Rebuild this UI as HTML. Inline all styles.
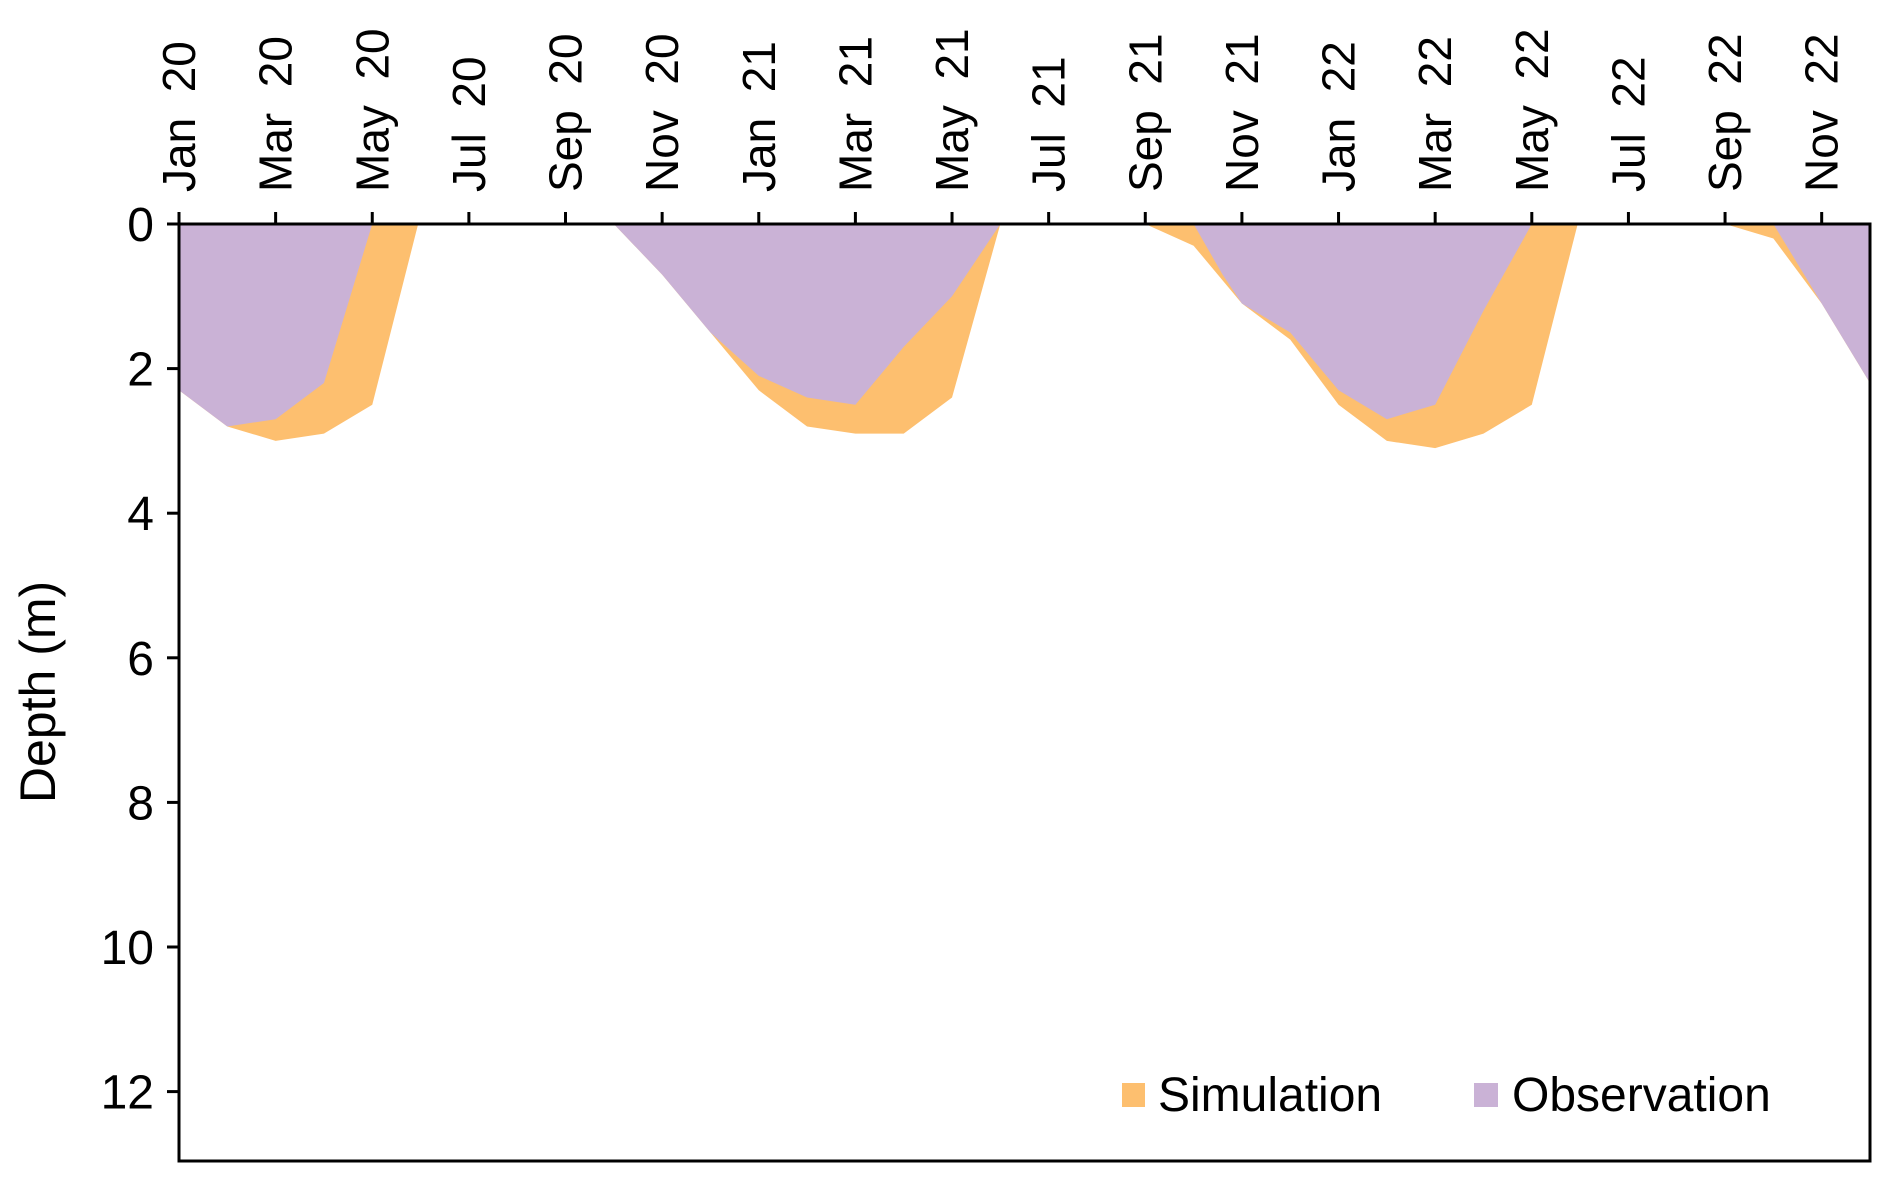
<!DOCTYPE html>
<html><head><meta charset="utf-8"><style>
html,body{margin:0;padding:0;background:#fff;}
svg{display:block;font-family:"Liberation Sans",Arial,sans-serif;}
text{white-space:pre;}
</style></head><body>
<svg id="chart" width="1892" height="1180" viewBox="0 0 1892 1180" xmlns="http://www.w3.org/2000/svg">
<g id="areas"></g>
<g id="axes"></g>
<text transform="translate(55,692) rotate(-90)" text-anchor="middle" font-size="50">Depth (m)</text>
<g>
<rect x="1122" y="1083" width="23" height="24" fill="#FDBF6F"/>
<text x="1158" y="1111" font-size="48">Simulation</text>
<rect x="1474" y="1083" width="24" height="24" fill="#CAB2D6"/>
<text x="1512" y="1111" font-size="48">Observation</text>
</g>
</svg>
<script>
const monthLabels = ["Jan  20","Mar  20","May  20","Jul  20","Sep  20","Nov  20","Jan  21","Mar  21","May  21","Jul  21","Sep  21","Nov  21","Jan  22","Mar  22","May  22","Jul  22","Sep  22","Nov  22"];
const yTicks = [0,2,4,6,8,10,12];
// month index 0 = Jan 20 ... 35 = Dec 22
const simMonths = [0,1,2,3,4,4.95,9,10,11,12,13,14,15,16,17,20,21,22,23,24,25,26,27,28,28.95,32,33,34,35];
const simDepth  = [2.3,2.8,3.0,2.9,2.5,0,0,0.7,1.5,2.3,2.8,2.9,2.9,2.4,0,0,0.3,1.1,1.6,2.5,3.0,3.1,2.9,2.5,0,0,0.2,1.1,2.2];
const obsMonths = [0,1,2,3,4,9,10,11,12,13,14,15,16,17,21,21.6,22,23,24,25,26,27,28,33,34,35];
const obsDepth  = [2.3,2.8,2.7,2.2,0,0,0.7,1.5,2.1,2.4,2.5,1.7,1.0,0,0,0.7,1.1,1.5,2.3,2.7,2.5,1.2,0,0,1.1,2.2];

const L=179,R=1870,T=224,B=1161,perM=72.3,perMonth=(R-L)/35;
const xS=m=>L+m*perMonth, yS=d=>T+d*perM;
const NS="http://www.w3.org/2000/svg";
function mk(tag,attrs,parent){const e=document.createElementNS(NS,tag);for(const k in attrs)e.setAttribute(k,attrs[k]);parent.appendChild(e);return e;}
const areas=document.getElementById('areas'), axes=document.getElementById('axes');
function areaPath(ms,ds){let d=`M${xS(ms[0])},${T}`;ms.forEach((m,i)=>d+=` L${xS(m)},${yS(ds[i])}`);d+=` L${xS(ms[ms.length-1])},${T} Z`;return d;}
const sim=mk('path',{d:areaPath(simMonths,simDepth),fill:'#FDBF6F'},areas);


const obs=mk('path',{d:areaPath(obsMonths,obsDepth),fill:'#CAB2D6'},areas);


const frame=mk('path',{d:`M${L},${T} H${R} V${B} H${L} Z`,fill:'none',stroke:'#000','stroke-width':3},axes);


monthLabels.forEach((lab,i)=>{const x=xS(i*2);
 const t=mk('line',{x1:x,x2:x,y1:T-12,y2:T,stroke:'#000','stroke-width':3},axes);
 
 
 const tx=mk('text',{transform:`translate(${x+16},${T-32}) rotate(-90)`,'font-size':46},axes);
 tx.textContent=lab;
 
 
});
yTicks.forEach(v=>{const y=yS(v);
 const t=mk('line',{x1:L-12,x2:L,y1:y,y2:y,stroke:'#000','stroke-width':3},axes);
 
 
 const tx=mk('text',{x:154,y:y+17,'text-anchor':'end','font-size':48},axes);
 tx.textContent=v;
 
 
});
</script>
</body></html>
